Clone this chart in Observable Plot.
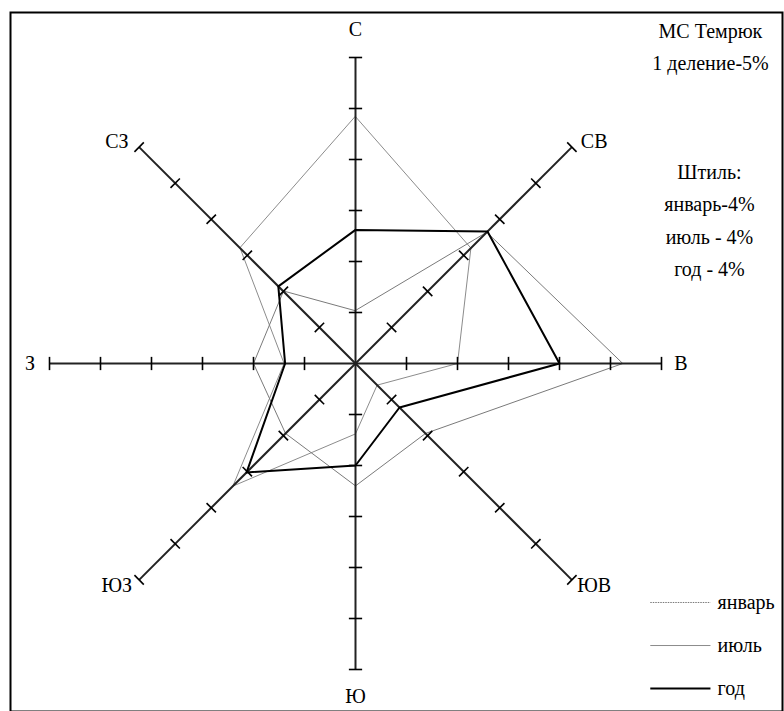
<!DOCTYPE html>
<html>
<head>
<meta charset="utf-8">
<script src="https://cdn.jsdelivr.net/npm/d3@7"></script>
<script src="https://cdn.jsdelivr.net/npm/@observablehq/plot@0.6"></script>
<style>
  html, body { margin: 0; padding: 0; background: #fff; }
  svg { display: block; }
  #chart svg text { font-family: "Liberation Serif", "DejaVu Serif", serif !important; }
</style>
</head>
<body>
<div id="chart"></div>
<script>
// ---- data ----
const directions = ["С", "СВ", "В", "ЮВ", "Ю", "ЮЗ", "З", "СЗ"];
const january = [5.2, 18.2, 26.2, 9.7, 12, 9.7, 10, 10];
const july = [24.2, 16, 10, 3, 6.9, 17, 7, 16];
const year = [13.1, 18.3, 20, 6.1, 10, 15.1, 6.9, 10.7];
const tickValues = [5, 10, 15, 20, 25, 30];
const titleLines = ["МС Темрюк", "1 деление-5%"];
const calmLines = ["Штиль:", "январь-4%", "июль - 4%", "год - 4%"];
const legendNames = ["январь", "июль", "год"];

// ---- geometry helpers ----
const rad = i => i * Math.PI / 4;
const polar = (vals, name) => vals.map((v, i) => ({
  series: name, dir: directions[i],
  x: v * Math.sin(rad(i)), y: v * Math.cos(rad(i))
}));

const maxR = tickValues[tickValues.length - 1];
const axes = [0, 1, 2, 3].map(i => ({
  x1: maxR * Math.sin(rad(i)), y1: maxR * Math.cos(rad(i)),
  x2: -maxR * Math.sin(rad(i)), y2: -maxR * Math.cos(rad(i))
}));
const h = 0.65;
const ticks = [];
directions.forEach((d, i) => {
  const s = Math.sin(rad(i)), c = Math.cos(rad(i));
  tickValues.forEach(t => {
    const cx = t * s, cy = t * c;
    ticks.push({x1: cx - h * c, y1: cy + h * s, x2: cx + h * c, y2: cy - h * s});
  });
});
const dirLabels = directions.map((d, i) => {
  const s = Math.sin(rad(i)), c = Math.cos(rad(i));
  if (i % 2 === 0) {
    const r = (i % 4 === 0) ? 32.7 : 31.9;
    return {label: d, x: r * s, y: r * c};
  }
  return {label: d, x: 23.4 * Math.sign(s), y: 21.8 * Math.sign(c)};
});

const titleData = titleLines.map((t, k) => ({t, x: 34.8, y: 32.55 - k * 3.15}));
const calmData = calmLines.map((t, k) => ({t, x: 34.7, y: 18.75 - k * 3.18}));
const legendStyles = [
  {stroke: "#7a7a7a", width: 1, dash: "1.5,1"},
  {stroke: "#8c8c8c", width: 1, dash: null},
  {stroke: "#000", width: 2, dash: null}
];
const legendData = legendNames.map((n, k) => ({
  name: n, x1: 28.9, x2: 34.8, xt: 35.5, y: -23.43 - k * 4.22, k
}));

const font = "Liberation Serif, DejaVu Serif, serif";
const fs = 20;
const ppu = 10.2; // pixels per percent unit
const cx = 355, cy = 363, W = 784, H = 711, mL = 10, mT = 12, mR = 2, mB = 0;

const plot = Plot.plot({
  width: W, height: H,
  marginLeft: mL, marginTop: mT, marginRight: mR, marginBottom: mB,
  x: {domain: [(mL - cx) / ppu, (W - mR - cx) / ppu], axis: null},
  y: {domain: [(cy - (H - mB)) / ppu, (cy - mT) / ppu], axis: null},
  style: {fontFamily: font, background: "#fff"},
  marks: [
    Plot.frame({stroke: "#000", strokeWidth: 2}),
    Plot.line(polar(july, "июль"), {x: "x", y: "y", curve: "linear-closed", stroke: "#8c8c8c", strokeWidth: 1}),
    Plot.line(polar(january, "январь"), {x: "x", y: "y", curve: "linear-closed", stroke: "#7a7a7a", strokeWidth: 1}),
    Plot.link(axes, {x1: "x1", y1: "y1", x2: "x2", y2: "y2", stroke: "#222", strokeWidth: 2}),
    Plot.link(ticks, {x1: "x1", y1: "y1", x2: "x2", y2: "y2", stroke: "#000", strokeWidth: 1.6}),
    Plot.line(polar(year, "год"), {x: "x", y: "y", curve: "linear-closed", stroke: "#000", strokeWidth: 2}),
    Plot.text(dirLabels, {x: "x", y: "y", text: "label", fontSize: fs, fontFamily: font, fill: "#000"}),
    Plot.text(titleData, {x: "x", y: "y", text: "t", fontSize: fs, fontFamily: font, fill: "#000"}),
    Plot.text(calmData, {x: "x", y: "y", text: "t", fontSize: fs, fontFamily: font, fill: "#000"}),
    ...legendData.map(d => Plot.link([d], {
      x1: "x1", x2: "x2", y1: "y", y2: "y",
      stroke: legendStyles[d.k].stroke, strokeWidth: legendStyles[d.k].width,
      strokeDasharray: legendStyles[d.k].dash
    })),
    Plot.text(legendData, {x: "xt", y: "y", text: "name", textAnchor: "start", fontSize: fs, fontFamily: font, fill: "#000"})
  ]
});
document.getElementById("chart").appendChild(plot);
</script>
</body>
</html>
